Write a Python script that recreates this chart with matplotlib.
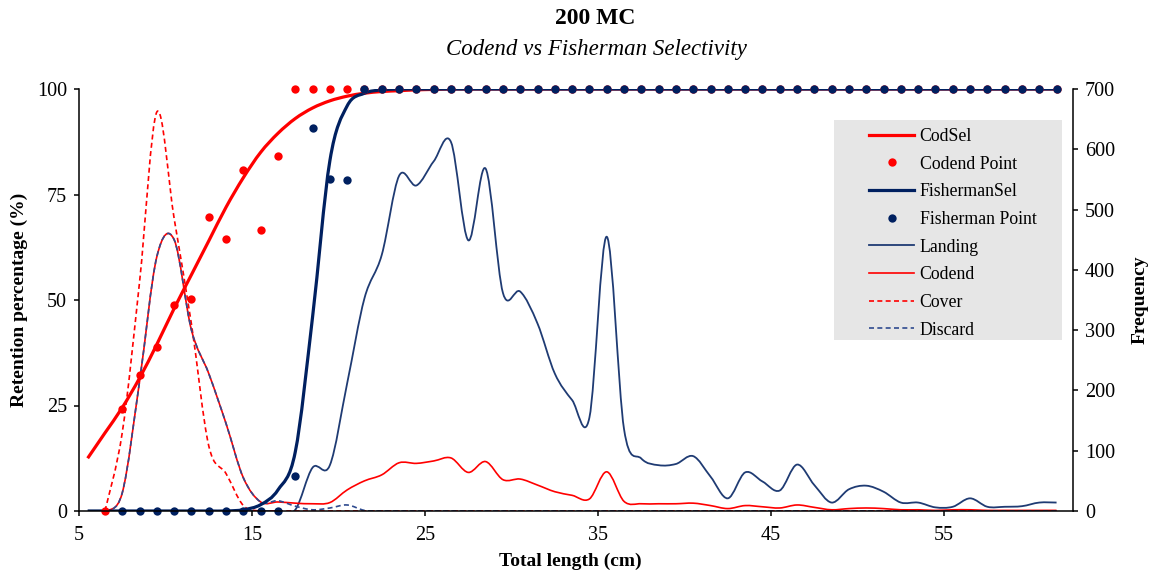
import numpy as np
import matplotlib
matplotlib.use("Agg")
import matplotlib.pyplot as plt
from matplotlib.path import Path
from matplotlib.patches import PathPatch, Rectangle
from matplotlib.lines import Line2D

plt.rcParams['font.family'] = ['Liberation Serif', 'DejaVu Serif']

# length classes (cm)
sel_len = [5.5, 6.5, 7.5, 8.5, 9.5, 10.5, 11.5, 12.5, 13.5, 14.5, 15.5, 16.5, 17.5, 18.5,
           19.5, 20.5, 21.5, 22.5, 23.5, 24.5, 25.5, 26.5, 27.5, 28.5, 29.5, 30.5, 31.5,
           32.5, 33.5, 34.5, 35.5, 36.5, 37.5, 38.5, 39.5, 40.5, 41.5, 42.5, 43.5, 44.5,
           45.5, 46.5, 47.5, 48.5, 49.5, 50.5, 51.5, 52.5, 53.5, 54.5, 55.5, 56.5, 57.5,
           58.5, 59.5, 60.5, 61.5]
freq_len = sel_len[1:]
fish_pt_len = sel_len[2:]

# selectivity curves (%)
cod_sel = [12.5, 18.5, 24.5, 31.5, 39.5, 48, 56, 64, 72, 79, 85, 89.5, 93, 95.5, 97.2,
           98.3, 99, 99.4, 99.6, 99.8, 99.9] + [100] * 36
fish_sel = [0] * 9 + [0.3, 1.5, 5, 14, 46, 83, 96, 99, 99.8] + [100] * 39

# observed retention (%)
cod_pts = [0, 24.2, 32.2, 38.9, 48.8, 50.2, 69.7, 64.4, 80.8, 66.6, 84.1] + [100] * 45
fish_pts = [0] * 10 + [8.4, 90.7, 78.6, 78.4] + [100] * 41

# length frequencies
landing = [0] * 11 + [2, 72, 76, 212, 353, 425, 556, 540, 580, 612, 449, 568, 362, 364,
                      311, 228, 184, 155, 455, 136, 87, 76, 78, 91, 57, 21, 64, 49, 34,
                      77, 43, 14, 36, 42, 32, 14, 14, 6, 7, 21, 7, 7, 8, 14, 14]
codend = [0, 30, 215, 422, 450, 300, 228, 145, 55, 15, 15, 13, 12, 14, 35, 50, 60, 80, 79,
          83, 88, 64, 82, 52, 53, 43, 32, 26, 20, 65, 16, 12, 12, 12, 13, 9, 4, 9, 7, 5, 10,
          6, 2, 4, 5, 4, 2, 2, 1, 2, 2, 1, 1, 1, 1, 1]
cover = [0, 130, 380, 662, 485, 310, 108, 62, 9] + [0] * 47
discard = [0, 30, 215, 422, 450, 300, 228, 145, 55, 15, 17, 8, 2, 5, 10, 1] + [0] * 40

RED = '#FF0000'
NAVY = '#002060'
LAND = '#1F3B73'
DISC = '#2F4B8F'


def smooth_path(x, y):
    # excel style smoothed line: cubic bezier through every point
    x = np.asarray(x, float)
    y = np.asarray(y, float)
    n = len(x)
    verts = [(x[0], y[0])]
    codes = [Path.MOVETO]
    for i in range(n - 1):
        j0 = max(i - 1, 0)
        j3 = min(i + 2, n - 1)
        c1 = (x[i] + (x[i + 1] - x[j0]) / 6, y[i] + (y[i + 1] - y[j0]) / 6)
        c2 = (x[i + 1] - (x[j3] - x[i]) / 6, y[i + 1] - (y[j3] - y[i]) / 6)
        verts += [c1, c2, (x[i + 1], y[i + 1])]
        codes += [Path.CURVE4] * 3
    return Path(verts, codes)


def add_curve(axis, x, y, **kw):
    axis.add_patch(PathPatch(smooth_path(x, y), fill=False, capstyle='butt',
                             joinstyle='round', **kw))


W, H = 1154, 573
fig = plt.figure(figsize=(W / 100, H / 100), dpi=100)
ax = fig.add_axes([79 / W, 1 - 511 / H, (1073 - 79) / W, (511 - 89) / H])
ax2 = ax.twinx()
ax.set_zorder(ax2.get_zorder() + 1)
ax.patch.set_visible(False)

# frequencies on the right axis
add_curve(ax2, freq_len, landing, ec=LAND, lw=1.3)
add_curve(ax2, freq_len, codend, ec=RED, lw=1.2)
add_curve(ax2, freq_len, cover, ec=RED, lw=1.2, ls=(0, (3, 2)))
add_curve(ax2, freq_len, discard, ec=DISC, lw=1.2, ls=(0, (3, 2)))

# selectivity on the left axis
add_curve(ax, sel_len, cod_sel, ec=RED, lw=2.3)
ax.plot(freq_len, cod_pts, 'o', color=RED, ms=6, mec='none', clip_on=False)
add_curve(ax, sel_len, fish_sel, ec=NAVY, lw=2.3)
ax.plot(fish_pt_len, fish_pts, 'o', color=NAVY, ms=6, mec='none', clip_on=False)

ax.set_xlim(5, 62.45)
ax.set_ylim(0, 100)
ax2.set_ylim(0, 700)
ax.set_xticks([5, 15, 25, 35, 45, 55])
ax.set_yticks([0, 25, 50, 75, 100])
ax2.set_yticks(range(0, 701, 100))

for a in (ax, ax2):
    for s in a.spines.values():
        s.set_visible(False)
ax.spines['left'].set_visible(True)
ax.spines['bottom'].set_visible(True)
ax2.spines['right'].set_visible(True)
for s in (ax.spines['left'], ax.spines['bottom'], ax2.spines['right']):
    s.set_linewidth(1.1)
    s.set_color('black')

ax.tick_params(axis='x', direction='out', length=3.5, width=1.1, labelsize=14.5, pad=7)
ax.tick_params(axis='y', direction='out', length=3.5, width=1.1, labelsize=14.5, pad=5)
ax2.tick_params(axis='y', direction='out', length=3.5, width=1.1, labelsize=14.5, pad=5)

fig.text(595 / W, 1 - 18 / H, '200 MC', ha='center', va='center', fontsize=17,
         fontweight='bold')
fig.text(596 / W, 1 - 50 / H, 'Codend vs Fisherman Selectivity', ha='center', va='center',
         fontsize=16.5, style='italic')
fig.text(570 / W, 1 - 561 / H, 'Total length (cm)', ha='center', va='center', fontsize=14,
         fontweight='bold')
fig.text(19 / W, 1 - 300 / H, 'Retention percentage (%)', ha='center', va='center',
         rotation=90, fontsize=14, fontweight='bold')
fig.text(1140 / W, 1 - 300 / H, 'Frequency', ha='center', va='center', rotation=90,
         fontsize=14, fontweight='bold')

# legend on a grey panel
fig.patches.append(Rectangle((834 / W, 1 - 340 / H), 228 / W, 220 / H,
                             transform=fig.transFigure, fc='#E6E6E6', ec='none', zorder=4))
handles = [
    Line2D([], [], color=RED, lw=2.3),
    Line2D([], [], ls='none', marker='o', color=RED, ms=6, mec='none'),
    Line2D([], [], color=NAVY, lw=2.3),
    Line2D([], [], ls='none', marker='o', color=NAVY, ms=6, mec='none'),
    Line2D([], [], color=LAND, lw=1.3),
    Line2D([], [], color=RED, lw=1.2),
    Line2D([], [], color=RED, lw=1.2, ls=(0, (3, 2))),
    Line2D([], [], color=DISC, lw=1.2, ls=(0, (3, 2))),
]
labels = ['CodSel', 'Codend Point', 'FishermanSel', 'Fisherman Point', 'Landing', 'Codend',
          'Cover', 'Discard']
fig.legend(handles, labels, loc='upper left', bbox_to_anchor=(869 / W, 1 - 128 / H),
           frameon=False, borderpad=0, borderaxespad=0, handlelength=2.55,
           handletextpad=0.3, labelspacing=0.6, fontsize=12.8, numpoints=1)

fig.savefig('out.png', dpi=100)
